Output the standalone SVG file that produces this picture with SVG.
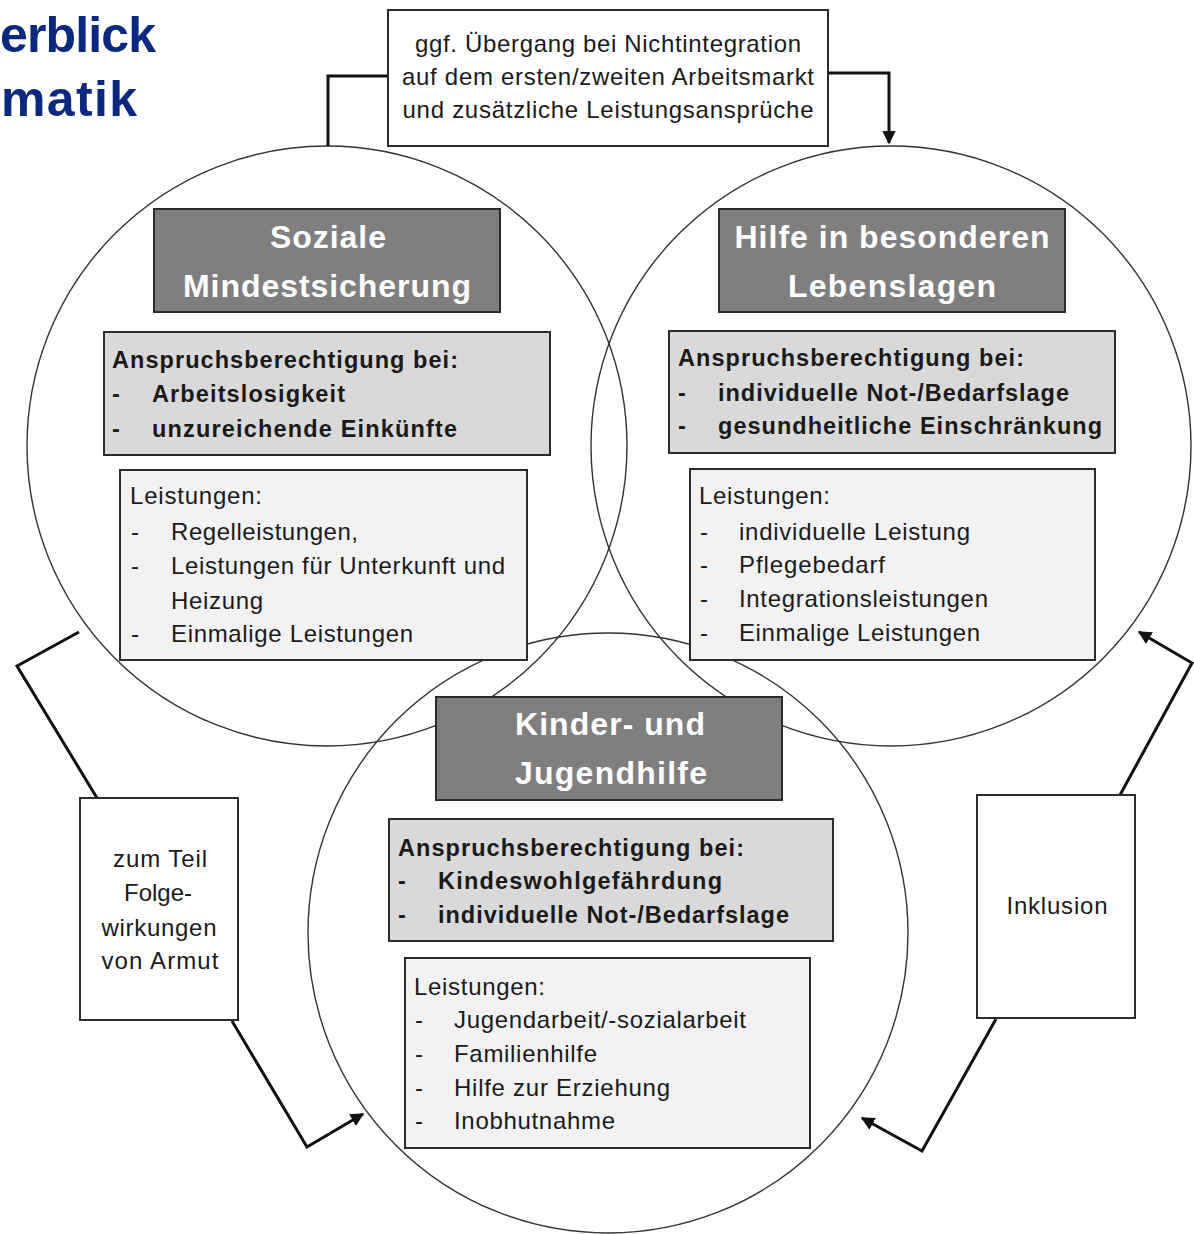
<svg xmlns="http://www.w3.org/2000/svg" width="1194" height="1234" viewBox="0 0 1194 1234">
<style>
text{font-family:"Liberation Sans",Arial,sans-serif;fill:#1a1a1a}
.title{font-size:50px;font-weight:bold;fill:#0b2a7e}
.circle{fill:none;stroke:#333;stroke-width:1.4}
.hdr{fill:#7f7f7f;stroke:#2b2b2b;stroke-width:2}
.hdrt{font-size:32px;font-weight:bold;fill:#fff;text-anchor:middle}
.req{fill:#d9d9d9;stroke:#2b2b2b;stroke-width:2}
.reqt{font-size:23.5px;font-weight:bold}
.srv{fill:#f2f2f2;stroke:#2b2b2b;stroke-width:2}
.srvt{font-size:24px}
.wbox{fill:#fff;stroke:#2b2b2b;stroke-width:2}
.wt{font-size:24px;text-anchor:middle}
.conn{fill:none;stroke:#111;stroke-width:3;stroke-linejoin:miter}
</style>
<defs>
<marker id="arrow" viewBox="0 0 10 10" refX="9" refY="5" markerWidth="4.5" markerHeight="4.5" orient="auto" markerUnits="strokeWidth">
<path d="M0,0 L10,5 L0,10 z" fill="#111"/>
</marker>
</defs>
<rect width="1194" height="1234" fill="#fff"/>

<g id="title">
<text class="title" x="0" y="52" textLength="156">erblick</text>
<text class="title" x="1" y="116" textLength="136">matik</text>
</g>

<g id="circles">
<circle class="circle" cx="327" cy="446" r="300"/>
<circle class="circle" cx="891" cy="446" r="300"/>
<circle class="circle" cx="608" cy="933" r="300"/>
</g>

<g id="connectors">
<path class="conn" d="M388,76 H328 V146"/>
<path class="conn" d="M828,73 H889 V143" marker-end="url(#arrow)"/>
<path class="conn" d="M79,632 L17,666 L97,798"/>
<path class="conn" d="M232,1021 L307,1147 L363,1114" marker-end="url(#arrow)"/>
<path class="conn" d="M1120,795 L1192,663 L1139,632" marker-end="url(#arrow)"/>
<path class="conn" d="M996,1019 L922,1151 L862,1118" marker-end="url(#arrow)"/>
</g>

<g id="top-box">
<rect class="wbox" x="388" y="10" width="440" height="136"/>
<text class="wt" x="608" y="52" textLength="386">ggf. Übergang bei Nichtintegration</text>
<text class="wt" x="608" y="85" textLength="412">auf dem ersten/zweiten Arbeitsmarkt</text>
<text class="wt" x="608" y="118" textLength="411">und zusätzliche Leistungsansprüche</text>
</g>

<g id="soziale-mindestsicherung">
<rect class="hdr" x="154" y="209" width="346" height="103"/>
<text class="hdrt" x="328" y="248" textLength="116">Soziale</text>
<text class="hdrt" x="327" y="297" textLength="288">Mindestsicherung</text>
<rect class="req" x="104" y="332" width="446" height="123"/>
<text class="reqt" x="112" y="368" textLength="346">Anspruchsberechtigung bei:</text>
<text class="reqt" x="112" y="402">-</text>
<text class="reqt" x="152" y="402" textLength="193">Arbeitslosigkeit</text>
<text class="reqt" x="112" y="437">-</text>
<text class="reqt" x="152" y="437" textLength="305">unzureichende Einkünfte</text>
<rect class="srv" x="120" y="470" width="407" height="190"/>
<text class="srvt" x="130" y="504" textLength="132">Leistungen:</text>
<text class="srvt" x="131" y="540">-</text>
<text class="srvt" x="171" y="540" textLength="187">Regelleistungen,</text>
<text class="srvt" x="131" y="574">-</text>
<text class="srvt" x="171" y="574" textLength="334">Leistungen für Unterkunft und</text>
<text class="srvt" x="171" y="609" textLength="92">Heizung</text>
<text class="srvt" x="131" y="642">-</text>
<text class="srvt" x="171" y="642" textLength="242">Einmalige Leistungen</text>
</g>

<g id="hilfe-besondere-lebenslagen">
<rect class="hdr" x="719" y="209" width="346" height="103"/>
<text class="hdrt" x="892" y="248" textLength="315">Hilfe in besonderen</text>
<text class="hdrt" x="892" y="297" textLength="208">Lebenslagen</text>
<rect class="req" x="669" y="331" width="446" height="122"/>
<text class="reqt" x="678" y="366" textLength="346">Anspruchsberechtigung bei:</text>
<text class="reqt" x="678" y="401">-</text>
<text class="reqt" x="718" y="401" textLength="351">individuelle Not-/Bedarfslage</text>
<text class="reqt" x="678" y="434">-</text>
<text class="reqt" x="718" y="434" textLength="384">gesundheitliche Einschränkung</text>
<rect class="srv" x="690" y="469" width="405" height="191"/>
<text class="srvt" x="699" y="504" textLength="131">Leistungen:</text>
<text class="srvt" x="700" y="540">-</text>
<text class="srvt" x="739" y="540" textLength="231">individuelle Leistung</text>
<text class="srvt" x="700" y="573">-</text>
<text class="srvt" x="739" y="573" textLength="146">Pflegebedarf</text>
<text class="srvt" x="700" y="607">-</text>
<text class="srvt" x="739" y="607" textLength="249">Integrationsleistungen</text>
<text class="srvt" x="700" y="641">-</text>
<text class="srvt" x="739" y="641" textLength="241">Einmalige Leistungen</text>
</g>

<g id="kinder-jugendhilfe">
<rect class="hdr" x="436" y="697" width="346" height="103"/>
<text class="hdrt" x="610" y="735" textLength="190">Kinder- und</text>
<text class="hdrt" x="611" y="784" textLength="192">Jugendhilfe</text>
<rect class="req" x="389" y="819" width="444" height="122"/>
<text class="reqt" x="398" y="856" textLength="346">Anspruchsberechtigung bei:</text>
<text class="reqt" x="398" y="889">-</text>
<text class="reqt" x="438" y="889" textLength="284">Kindeswohlgefährdung</text>
<text class="reqt" x="398" y="923">-</text>
<text class="reqt" x="438" y="923" textLength="351">individuelle Not-/Bedarfslage</text>
<rect class="srv" x="405" y="958" width="405" height="190"/>
<text class="srvt" x="414" y="995" textLength="131">Leistungen:</text>
<text class="srvt" x="415" y="1028">-</text>
<text class="srvt" x="454" y="1028" textLength="292">Jugendarbeit/-sozialarbeit</text>
<text class="srvt" x="415" y="1062">-</text>
<text class="srvt" x="454" y="1062" textLength="143">Familienhilfe</text>
<text class="srvt" x="415" y="1096">-</text>
<text class="srvt" x="454" y="1096" textLength="216">Hilfe zur Erziehung</text>
<text class="srvt" x="415" y="1129">-</text>
<text class="srvt" x="454" y="1129" textLength="161">Inobhutnahme</text>
</g>

<g id="folgewirkungen">
<rect class="wbox" x="80" y="798" width="158" height="222"/>
<text class="wt" x="160" y="867" textLength="94">zum Teil</text>
<text class="wt" x="158" y="901" textLength="68">Folge-</text>
<text class="wt" x="159" y="936" textLength="115">wirkungen</text>
<text class="wt" x="160" y="969" textLength="117">von Armut</text>
</g>

<g id="inklusion">
<rect class="wbox" x="977" y="795" width="158" height="223"/>
<text class="wt" x="1057" y="914" textLength="101">Inklusion</text>
</g>
</svg>
